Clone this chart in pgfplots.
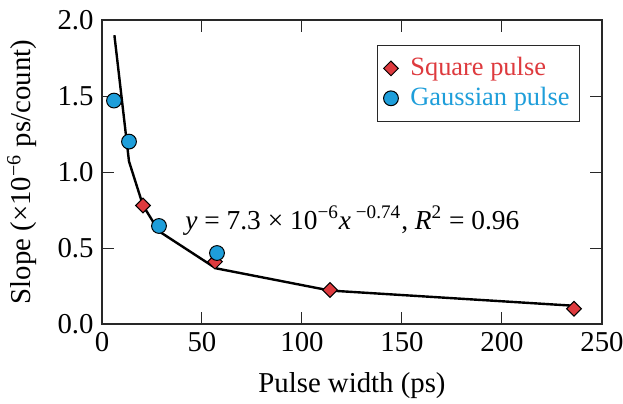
\documentclass[border=0pt,12pt]{standalone}
\usepackage{pgfplots}
\pgfplotsset{compat=1.18}
\usepackage{fontspec}
\setmainfont{Liberation Serif}
\definecolor{sqred}{RGB}{222,58,62}
\definecolor{gsblue}{RGB}{30,158,218}
\definecolor{frame}{RGB}{40,40,40}

\begin{document}
\begin{tikzpicture}[font=\fontsize{14.4pt}{17pt}\selectfont]
\begin{axis}[
    name=main,
    scale only axis,
    width=250pt,
    height=152pt,
    xmin=0, xmax=250,
    ymin=0, ymax=2,
    xtick={0,50,...,250},
    ytick={0,0.5,...,2},
    yticklabel style={/pgf/number format/fixed,/pgf/number format/fixed zerofill,/pgf/number format/precision=1},
    /pgf/number format/assume math mode=true,
    tick label style={font=\fontsize{14.4pt}{17pt}\selectfont},
    label style={font=\fontsize{14.4pt}{17pt}\selectfont},
    tick align=inside,
    major tick length=6pt,
    tick style={frame, line width=0.5pt},
    axis line style={frame, line width=0.6pt},
    xlabel={Pulse width (ps)},
    ylabel={Slope (×10\textsuperscript{−6} ps/count)},
    xlabel style={at={(axis description cs:0.5,-0.204)}, anchor=center},
    ylabel style={at={(axis description cs:-0.16,0.5)}, anchor=center},
    legend style={at={(rel axis cs:0.956,0.918)}, anchor=north east, draw=frame, line width=0.5pt,
        inner xsep=3pt, inner ysep=4pt, row sep=0pt,
        font=\fontsize{13.2pt}{16pt}\selectfont,
        /tikz/every odd column/.append style={column sep=4pt}},
    legend cell align=left,
]
\addplot[black, line width=1.2pt, forget plot] coordinates {
    (6.2,1.90) (13.5,1.07) (20.5,0.78) (28.5,0.61) (56.5,0.37) (57.5,0.365) (114,0.22) (236,0.12)
};
\addplot[only marks, mark=square*, mark size=2.6pt, mark options={rotate=45, fill=sqred, draw=black, line width=0.5pt}] coordinates {
    (20.5,0.78) (56.5,0.41) (114,0.224) (236,0.10)
};
\addlegendentry{\textcolor{sqred}{Square pulse}}
\addplot[only marks, mark=*, mark size=3.7pt, mark options={fill=gsblue, draw=black, line width=0.5pt}] coordinates {
    (6,1.47) (13.5,1.20) (28.5,0.645) (57.5,0.467)
};
\addlegendentry{\textcolor{gsblue}{Gaussian pulse}}
\node[anchor=west, inner sep=0pt, font=\fontsize{13.7pt}{16pt}\selectfont] at (axis cs:41.5,0.68) {\textit{y} = 7.3 × 10\textsuperscript{−6}\textit{x}\textsuperscript{ −0.74}, \textit{R}\textsuperscript{2} = 0.96};
\end{axis}
\pgfresetboundingbox
\path ([xshift=-51pt,yshift=-39.5pt]main.south west) rectangle ([xshift=10.5pt,yshift=10pt]main.north east);
\end{tikzpicture}
\end{document}
